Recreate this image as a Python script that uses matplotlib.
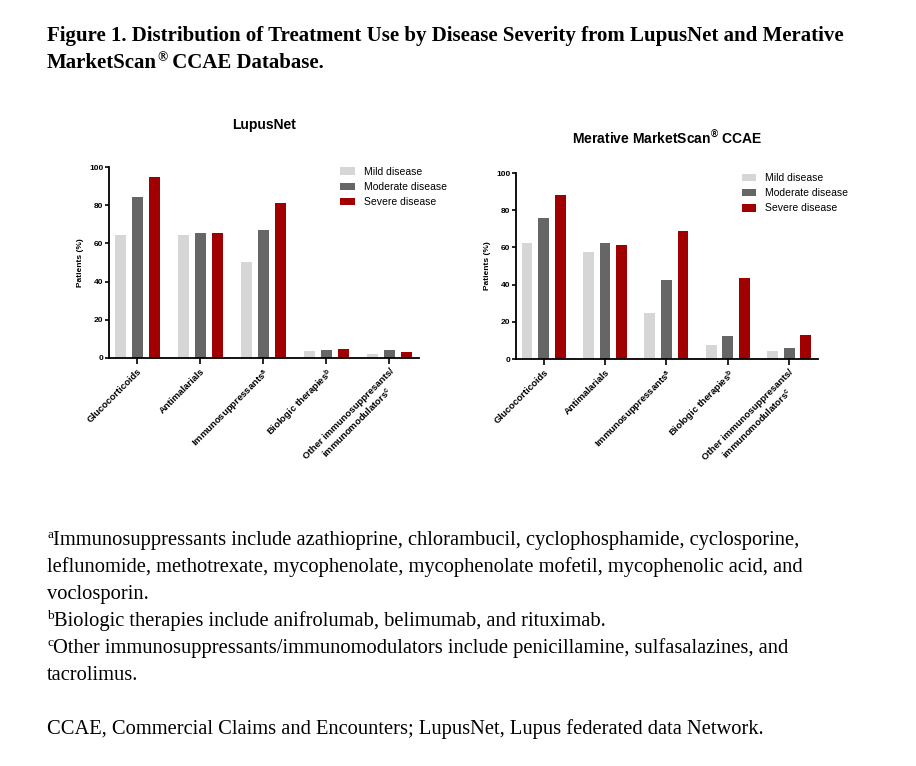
import numpy as np
import matplotlib
matplotlib.use('Agg')
import matplotlib.pyplot as plt

# dados (% de pacientes)
categorias = ['Glucocorticoids', 'Antimalarials', 'Immunosuppressants$^{\\mathregular{a}}$',
              'Biologic therapies$^{\\mathregular{b}}$',
              'Other immunosuppresants/\nimmunomodulators$^{\\mathregular{c}}$']
series = ['Mild disease', 'Moderate disease', 'Severe disease']

lupusnet_mild = [64.5, 64.5, 50.3, 3.7, 2.3]
lupusnet_moderate = [84.3, 65.6, 67.0, 4.0, 4.0]
lupusnet_severe = [94.8, 65.2, 81.2, 4.7, 3.3]

ccae_mild = [62.5, 57.7, 24.8, 7.7, 4.1]
ccae_moderate = [75.7, 62.1, 42.3, 12.3, 6.1]
ccae_severe = [88.4, 61.1, 68.9, 43.8, 13.0]

cores = ['#d6d6d6', '#666666', '#a00000']

plt.rcParams['font.family'] = ['Liberation Sans', 'DejaVu Sans']

fig = plt.figure(figsize=(9.16, 7.66), dpi=100)


def grafico(ax, titulo, valores, pad_titulo, leg_x):
    x = np.arange(len(categorias))
    for i, (v, nome) in enumerate(zip(valores, series)):
        ax.bar(x + (i - 1) * 0.27, v, width=0.175, color=cores[i], label=nome)
    ax.set_xlim(-0.45, len(categorias) - 1 + 0.47)
    ax.set_ylim(0, 100)
    ax.set_yticks([0, 20, 40, 60, 80, 100])
    ax.set_xticks(x)
    ax.set_xticklabels(categorias, rotation=45, ha='right', rotation_mode='anchor',
                       fontsize=6.8, fontweight='bold', multialignment='center')
    for lbl in ax.get_yticklabels():
        lbl.set_fontweight('bold')
    ax.tick_params(axis='y', labelsize=6, length=3, width=1.2, pad=1)
    ax.tick_params(axis='x', length=4, width=1.2, pad=2)
    ax.spines['top'].set_visible(False)
    ax.spines['right'].set_visible(False)
    ax.spines['left'].set_linewidth(1.3)
    ax.spines['bottom'].set_linewidth(1.3)
    ax.set_ylabel('Patients (%)', fontsize=6, fontweight='bold', labelpad=4)
    ax.set_title(titulo, fontsize=10, fontweight='bold', pad=pad_titulo)
    ax.legend(loc='upper left', bbox_to_anchor=(leg_x, 1.05), frameon=False, fontsize=7.5,
              handlelength=1.4, handleheight=0.75, labelspacing=0.5, handletextpad=0.85)


ax1 = fig.add_axes([109 / 916, 1 - 358 / 766, 310 / 916, 191 / 766])
grafico(ax1, 'LupusNet', [lupusnet_mild, lupusnet_moderate, lupusnet_severe], 27, 0.716)

ax2 = fig.add_axes([516 / 916, 1 - 359 / 766, 302 / 916, 186 / 766])
grafico(ax2, 'Merative MarketScan$^{\\mathregular{®}}$ CCAE', [ccae_mild, ccae_moderate, ccae_severe], 21, 0.717)

# textos da figura (Times) com sobrescritos montados por partes
renderer = fig.canvas.get_renderer()


def linha(x_px, y_px, partes, tamanho, peso='normal'):
    x = x_px
    for texto, sup in partes:
        if sup:
            t = fig.text(x / 916, 1 - (y_px + 1 - tamanho * 0.55) / 766, texto, fontsize=tamanho * 0.65,
                         family='Liberation Serif', fontweight=peso, va='baseline')
        else:
            t = fig.text(x / 916, 1 - y_px / 766, texto, fontsize=tamanho,
                         family='Liberation Serif', fontweight=peso, va='baseline')
        x += t.get_window_extent(renderer=renderer).width


tt = 15
linha(47, 41, [('Figure 1. Distribution of Treatment Use by Disease Severity from LupusNet and Merative', False)], tt, 'bold')
linha(47, 68, [('MarketScan', False), ('®', True), (' CCAE Database.', False)], tt, 'bold')

fn = 14.8
linha(47, 545, [('a', True), ('Immunosuppressants include azathioprine, chlorambucil, cyclophosphamide, cyclosporine,', False)], fn)
linha(47, 572, [('leflunomide, methotrexate, mycophenolate, mycophenolate mofetil, mycophenolic acid, and', False)], fn)
linha(47, 599, [('voclosporin.', False)], fn)
linha(47, 626, [('b', True), ('Biologic therapies include anifrolumab, belimumab, and rituximab.', False)], fn)
linha(47, 653, [('c', True), ('Other immunosuppressants/immunomodulators include penicillamine, sulfasalazines, and', False)], fn)
linha(47, 680, [('tacrolimus.', False)], fn)
linha(47, 734, [('CCAE, Commercial Claims and Encounters; LupusNet, Lupus federated data Network.', False)], fn)

plt.savefig('out.png', dpi=100)
plt.close()
